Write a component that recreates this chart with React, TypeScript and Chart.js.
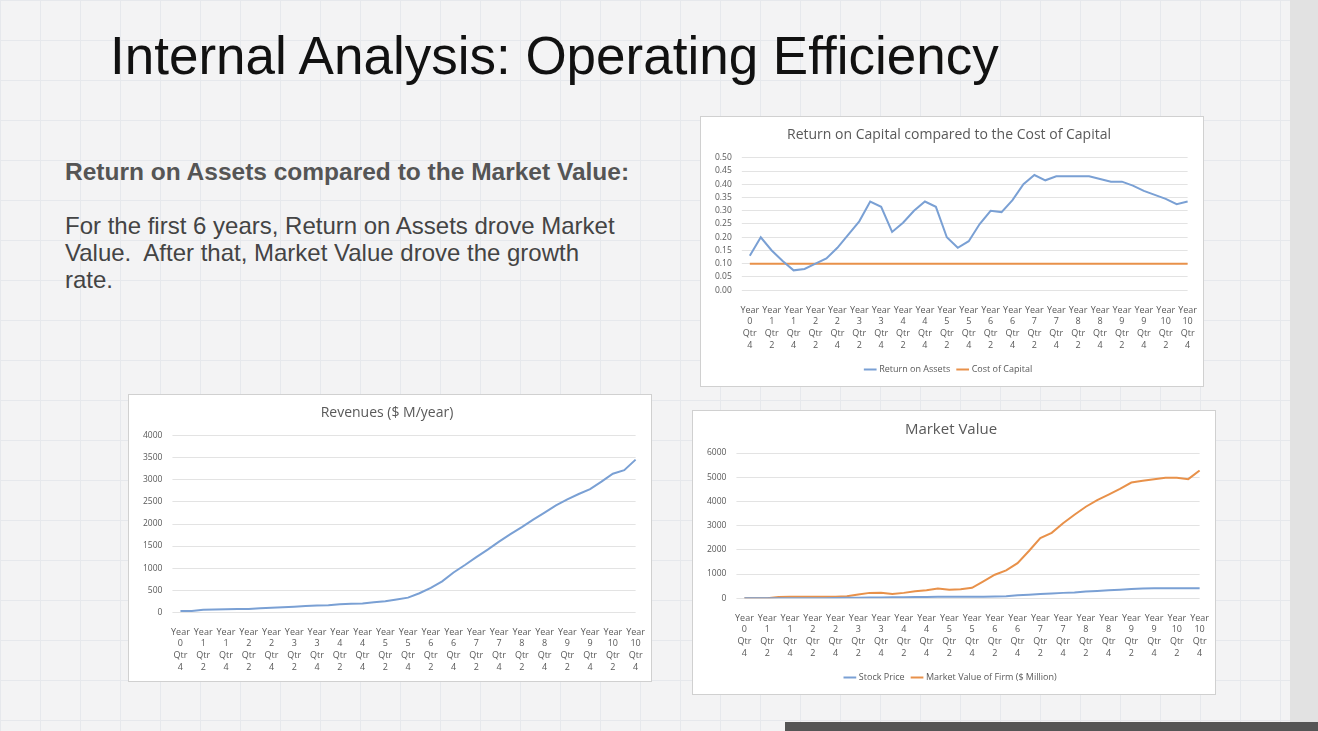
import React, { useEffect, useRef } from "react";
import { Chart, registerables } from "chart.js";
Chart.register(...registerables);

const quarterLabels: string[][] = [];
for (let i = 0; i < 41; i++) {
  const q = ((i + 3) % 4) + 1;
  const y = Math.floor((i + 3) / 4);
  quarterLabels.push(["Year", String(y), "Qtr", String(q)]);
}

const returnOnAssets = [0.13, 0.2, 0.15, 0.11, 0.075, 0.08, 0.1, 0.12, 0.16, 0.21, 0.26, 0.335, 0.315, 0.22, 0.255, 0.3, 0.335, 0.315, 0.2, 0.16, 0.185, 0.25, 0.3, 0.295, 0.34, 0.4, 0.435, 0.415, 0.43, 0.43, 0.43, 0.43, 0.42, 0.41, 0.41, 0.395, 0.375, 0.36, 0.345, 0.325, 0.335];
const costOfCapital = Array(41).fill(0.1);
const revenues = [30, 30, 55, 60, 65, 70, 75, 90, 100, 110, 125, 140, 150, 160, 180, 190, 200, 225, 250, 290, 330, 430, 550, 700, 900, 1070, 1250, 1420, 1600, 1770, 1930, 2100, 2260, 2420, 2560, 2680, 2790, 2960, 3140, 3220, 3460];
const stockPrice = [0, 0, 0, 0, 0, 0, 0, 0, 10, 15, 20, 25, 30, 35, 40, 45, 50, 55, 55, 60, 60, 65, 70, 80, 120, 140, 170, 190, 220, 240, 280, 300, 330, 350, 380, 400, 410, 410, 410, 410, 410];
const marketValue = [0, 0, 0, 50, 60, 60, 60, 60, 60, 80, 150, 220, 230, 170, 220, 290, 330, 400, 350, 370, 430, 700, 970, 1150, 1450, 1950, 2480, 2700, 3100, 3450, 3780, 4050, 4280, 4520, 4780, 4850, 4920, 4980, 4980, 4920, 5280];

const BLUE = "#7aa0d4";
const ORANGE = "#e8914a";
const FONT = "'Open Sans', 'Liberation Sans', sans-serif";

type DS = { label: string; data: number[]; color: string };

function LineChart(props: { title: string; titleSize: number; datasets: DS[]; min: number; max: number; step: number; decimals: number; legend: boolean; box: React.CSSProperties }) {
  const ref = useRef<HTMLCanvasElement>(null);
  useEffect(() => {
    const c = new Chart(ref.current!, {
      type: "line",
      data: {
        labels: quarterLabels,
        datasets: props.datasets.map((d) => ({ label: d.label, data: d.data, borderColor: d.color, backgroundColor: d.color, borderWidth: 2, pointRadius: 0, tension: 0, pointStyle: "line" as const })),
      },
      options: {
        animation: false,
        responsive: true,
        maintainAspectRatio: false,
        layout: { padding: { left: 4, right: 10, top: 4, bottom: 2 } },
        plugins: {
          title: { display: true, text: props.title, color: "#595959", font: { family: FONT, size: props.titleSize, weight: "normal" }, padding: { top: 6, bottom: 14 } },
          legend: { display: props.legend, position: "bottom", labels: { usePointStyle: true, boxWidth: 30, font: { family: FONT, size: 9 }, color: "#595959", padding: 8 } },
          tooltip: { enabled: false },
        },
        scales: {
          x: {
            grid: { display: false },
            border: { display: false },
            ticks: { autoSkip: false, maxRotation: 0, minRotation: 0, font: { family: FONT, size: 9, lineHeight: 1.3 }, color: "#595959", padding: 6, callback: (_v: any, i: number) => (i % 2 === 0 ? quarterLabels[i] : "") },
          },
          y: {
            min: props.min, max: props.max,
            grid: { color: "#e3e3e3" },
            border: { display: false },
            ticks: { stepSize: props.step, font: { family: FONT, size: 8.5 }, color: "#595959", padding: 10, callback: (v: any) => Number(v).toFixed(props.decimals) },
          },
        },
      },
    });
    return () => c.destroy();
  }, []);
  return (
    <div style={{ position: "absolute", background: "#fff", border: "1px solid #d0d0d0", ...props.box }}>
      <canvas ref={ref} />
    </div>
  );
}

export default function App() {
  const grid = "linear-gradient(#e6e8ec 1px, transparent 1px), linear-gradient(90deg, #e6e8ec 1px, transparent 1px)";
  return (
    <div style={{ position: "fixed", left: 0, top: 0, width: 1318, height: 731, background: "#f3f3f4", backgroundImage: grid, backgroundSize: "40px 40px", fontFamily: "'Liberation Sans', Arial, sans-serif", overflow: "hidden" }}>
      <div style={{ position: "absolute", left: 110, top: 25, fontSize: 53, color: "#111" }}>Internal Analysis: Operating Efficiency</div>
      <div style={{ position: "absolute", left: 65, top: 158, fontSize: 24.5, fontWeight: "bold", color: "#555" }}>Return on Assets compared to the Market Value:</div>
      <div style={{ position: "absolute", left: 65, top: 212, width: 555, fontSize: 24, lineHeight: "27px", color: "#444" }}>
        For the first 6 years, Return on Assets drove Market Value.&nbsp; After that, Market Value drove the growth rate.
      </div>
      <LineChart title="Return on Capital compared to the Cost of Capital" titleSize={14}
        datasets={[{ label: "Return on Assets", data: returnOnAssets, color: BLUE }, { label: "Cost of Capital", data: costOfCapital, color: ORANGE }]}
        min={0} max={0.5} step={0.05} decimals={2} legend={true}
        box={{ left: 700, top: 116, width: 502, height: 269 }} />
      <LineChart title="Revenues ($ M/year)" titleSize={14}
        datasets={[{ label: "Revenues", data: revenues, color: BLUE }]}
        min={0} max={4000} step={500} decimals={0} legend={false}
        box={{ left: 128, top: 394, width: 522, height: 286 }} />
      <LineChart title="Market Value" titleSize={15}
        datasets={[{ label: "Stock Price", data: stockPrice, color: BLUE }, { label: "Market Value of Firm ($ Million)", data: marketValue, color: ORANGE }]}
        min={0} max={6000} step={1000} decimals={0} legend={true}
        box={{ left: 692, top: 410, width: 522, height: 283 }} />
      <div style={{ position: "absolute", left: 785, top: 722, width: 533, height: 9, background: "#555" }} />
      <div style={{ position: "absolute", left: 1290, top: 0, width: 28, height: 722, background: "#e2e2e2" }} />
    </div>
  );
}
